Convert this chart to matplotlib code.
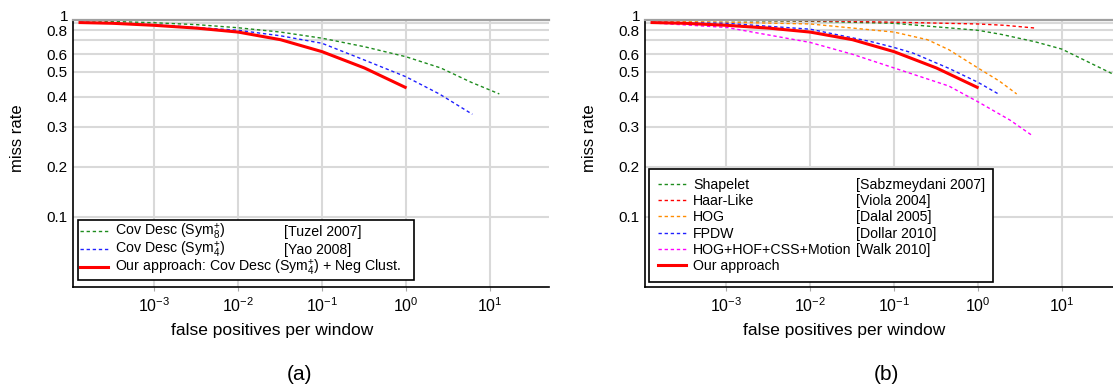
import matplotlib
matplotlib.use("Agg")
import matplotlib.pyplot as plt
import numpy as np
from matplotlib.ticker import FixedLocator, FixedFormatter, LogFormatterMathtext, NullLocator

plt.rcParams['font.family'] = ['Liberation Sans', 'DejaVu Sans']
plt.rcParams['mathtext.fontset'] = 'custom'
plt.rcParams['mathtext.rm'] = 'Liberation Sans'
plt.rcParams['mathtext.it'] = 'Liberation Sans:italic'
plt.rcParams['mathtext.bf'] = 'Liberation Sans:bold'

# ---- data (fppw, miss rate) ----
# panel (a)
fppw_tuzel = [1.3e-4, 3.2e-4, 1e-3, 3.2e-3, 1e-2, 3.2e-2, 0.1, 0.32, 1, 2.6, 6, 13]
mr_tuzel = [0.97, 0.95, 0.915, 0.88, 0.835, 0.78, 0.715, 0.65, 0.585, 0.52, 0.455, 0.41]
fppw_yao = [1.3e-4, 1e-3, 1e-2, 3.2e-2, 0.1, 0.32, 1, 2.5, 6.2]
mr_yao = [0.93, 0.88, 0.80, 0.74, 0.674, 0.565, 0.478, 0.41, 0.338]
fppw_ours = [1.3e-4, 3.2e-4, 1e-3, 3.2e-3, 1e-2, 3.2e-2, 0.1, 0.32, 0.98]
mr_ours = [0.92, 0.90, 0.87, 0.83, 0.78, 0.70, 0.617, 0.52, 0.435]

# panel (b)
fppw_shapelet = [1.3e-4, 1e-3, 1e-2, 0.1, 1, 1.9, 4.8, 10, 39, 45]
mr_shapelet = [0.985, 0.975, 0.955, 0.90, 0.80, 0.755, 0.685, 0.634, 0.493, 0.48]
fppw_haar = [1.3e-4, 1e-3, 1e-2, 0.1, 1, 2.1, 4.9]
mr_haar = [0.99, 0.985, 0.97, 0.93, 0.89, 0.87, 0.83]
fppw_hog = [1.3e-4, 1e-3, 1e-2, 0.1, 0.25, 0.45, 1, 1.8, 2.9]
mr_hog = [0.96, 0.93, 0.89, 0.78, 0.70, 0.63, 0.52, 0.46, 0.41]
fppw_fpdw = [1.3e-4, 1e-3, 1e-2, 0.054, 0.1, 0.17, 0.45, 1, 1.8]
mr_fpdw = [0.93, 0.90, 0.815, 0.685, 0.645, 0.607, 0.518, 0.455, 0.408]
fppw_walk = [1.3e-4, 1e-3, 1e-2, 3.2e-2, 0.1, 0.45, 1, 2.4, 4.4]
mr_walk = [0.91, 0.84, 0.68, 0.60, 0.52, 0.44, 0.381, 0.32, 0.275]

ytick_vals = [0.1, 0.2, 0.3, 0.4, 0.5, 0.6, 0.7, 0.8, 0.9, 1.0]
ytick_labels = ['0.1', '0.2', '0.3', '0.4', '0.5', '0.6', '', '0.8', '', '']
xtick_vals = [1e-3, 1e-2, 1e-1, 1, 10]

names_a = ['Cov Desc (Sym$^{+}_{8}$)', 'Cov Desc (Sym$^{+}_{4}$)',
           'Our approach: Cov Desc (Sym$^{+}_{4}$) + Neg Clust.']
cites_a = ['[Tuzel 2007]', '[Yao 2008]', '']
names_b = ['Shapelet', 'Haar-Like', 'HOG', 'FPDW', 'HOG+HOF+CSS+Motion', 'Our approach']
cites_b = ['[Sabzmeydani 2007]', '[Viola 2004]', '[Dalal 2005]', '[Dollar 2010]', '[Walk 2010]', '']

# the miss-rate axis of the original is not a plain log axis: map the
# gridline positions (pixels below the 1.0 line) onto a piecewise log scale
scale_vals = [0.04, 0.1, 0.2, 0.3, 0.4, 0.5, 0.6, 0.7, 0.8, 0.9, 1.0]
scale_pos = [-267, -197, -147, -107, -77, -52, -34.6, -20, -10.6, -3.6, 0]


def fwd(y):
    y = np.clip(np.asarray(y, dtype=float), 1e-6, None)
    return np.interp(np.log10(y), np.log10(scale_vals), scale_pos)


def inv(p):
    return 10 ** np.interp(np.asarray(p, dtype=float), scale_pos, np.log10(scale_vals))


DASH = (0, (2.4, 2.0))
LEG_FS = 10.2
W, H = 1113, 389
fig = plt.figure(figsize=(W / 100, H / 100), dpi=100)


def setup(ax):
    ax.set_xscale('log')
    ax.set_yscale('function', functions=(fwd, inv))
    ax.set_xlim(10 ** -3.97, 10 ** 1.71)
    ax.set_ylim(0.04, 1.0)
    ax.xaxis.set_major_locator(FixedLocator(xtick_vals))
    ax.xaxis.set_major_formatter(LogFormatterMathtext())
    ax.xaxis.set_minor_locator(NullLocator())
    ax.yaxis.set_major_locator(FixedLocator(ytick_vals))
    ax.yaxis.set_major_formatter(FixedFormatter(ytick_labels))
    ax.yaxis.set_minor_locator(NullLocator())
    ax.grid(True, color='#d9d9d9', lw=1.5)
    ax.set_axisbelow(True)
    ax.tick_params(axis='y', length=0, pad=4, labelsize=11)
    ax.tick_params(axis='x', length=3, color='#aaaaaa', pad=4, labelsize=11.5)
    ax.spines['right'].set_visible(False)
    ax.spines['top'].set_color('#a0a0a0')
    ax.spines['top'].set_linewidth(1.6)
    ax.spines['left'].set_linewidth(1.2)
    ax.spines['bottom'].set_linewidth(1.2)
    # the "1" label sits a little above its line in the original
    ax.annotate('1', xy=(0, 1.0), xycoords=('axes fraction', 'data'),
                xytext=(-4.5, 2.5), textcoords='offset pixels',
                ha='right', va='center', fontsize=11)
    ax.set_xlabel('false positives per window', fontsize=12.5)
    ax.set_ylabel('miss rate', fontsize=12)
    ax.xaxis.set_label_coords(0.418, -0.136)
    ax.yaxis.set_label_coords(-0.1, 0.557)


def make_legend(ax, x0, y0, w, spacing, pad):
    leg = ax.legend(loc='lower left', bbox_to_anchor=(x0, y0, w, 0.3), mode='expand',
                    borderaxespad=0, fontsize=LEG_FS, handlelength=1.95, handletextpad=0.5,
                    borderpad=pad, labelspacing=spacing, fancybox=False, framealpha=1,
                    edgecolor='black')
    leg.get_frame().set_linewidth(1.2)
    return leg


def add_cites(ax, leg, cites, xfrac):
    fig.canvas.draw()
    x_disp = ax.transAxes.transform((xfrac, 0))[0]
    for txt, cite in zip(leg.get_texts(), cites):
        if not cite:
            continue
        y_disp = txt.get_transform().transform(txt.get_position())[1]
        xf, yf = fig.transFigure.inverted().transform((x_disp, y_disp))
        fig.text(xf, yf, cite, fontsize=LEG_FS, ha='left', va='baseline')


ax_a = fig.add_axes([73 / W, 102.3 / H, 476.3 / W, 267 / H])
ax_b = fig.add_axes([645 / W, 102.3 / H, 476.3 / W, 267 / H])
for ax in (ax_a, ax_b):
    setup(ax)

ax_a.plot(fppw_tuzel, mr_tuzel, color='#1e8c1e', lw=1.0, ls=DASH, label=names_a[0])
ax_a.plot(fppw_yao, mr_yao, color='#2020ff', lw=1.0, ls=DASH, label=names_a[1])
ax_a.plot(fppw_ours, mr_ours, color='#ff0000', lw=2.2, label=names_a[2])
leg_a = make_legend(ax_a, 0.0103, 0.0251, 0.7057, -0.15, 0.15)

ax_b.plot(fppw_shapelet, mr_shapelet, color='#1e8c1e', lw=1.0, ls=DASH, label=names_b[0])
ax_b.plot(fppw_haar, mr_haar, color='#ff0000', lw=1.0, ls=DASH, label=names_b[1])
ax_b.plot(fppw_hog, mr_hog, color='#ff8c00', lw=1.0, ls=DASH, label=names_b[2])
ax_b.plot(fppw_fpdw, mr_fpdw, color='#2020ff', lw=1.0, ls=DASH, label=names_b[3])
ax_b.plot(fppw_walk, mr_walk, color='#ff00ff', lw=1.0, ls=DASH, label=names_b[4])
ax_b.plot(fppw_ours, mr_ours, color='#ff0000', lw=2.2, label=names_b[5])
leg_b = make_legend(ax_b, 0.0088, 0.0165, 0.7222, 0.16, 0.65)

fig.text(300 / W, 1 - 375 / H, '(a)', fontsize=15, ha='center', va='center')
fig.text(886 / W, 1 - 375 / H, '(b)', fontsize=15, ha='center', va='center')

add_cites(ax_a, leg_a, cites_a, 0.442)
add_cites(ax_b, leg_b, cites_b, 0.442)

fig.savefig('out.png', dpi=100)
